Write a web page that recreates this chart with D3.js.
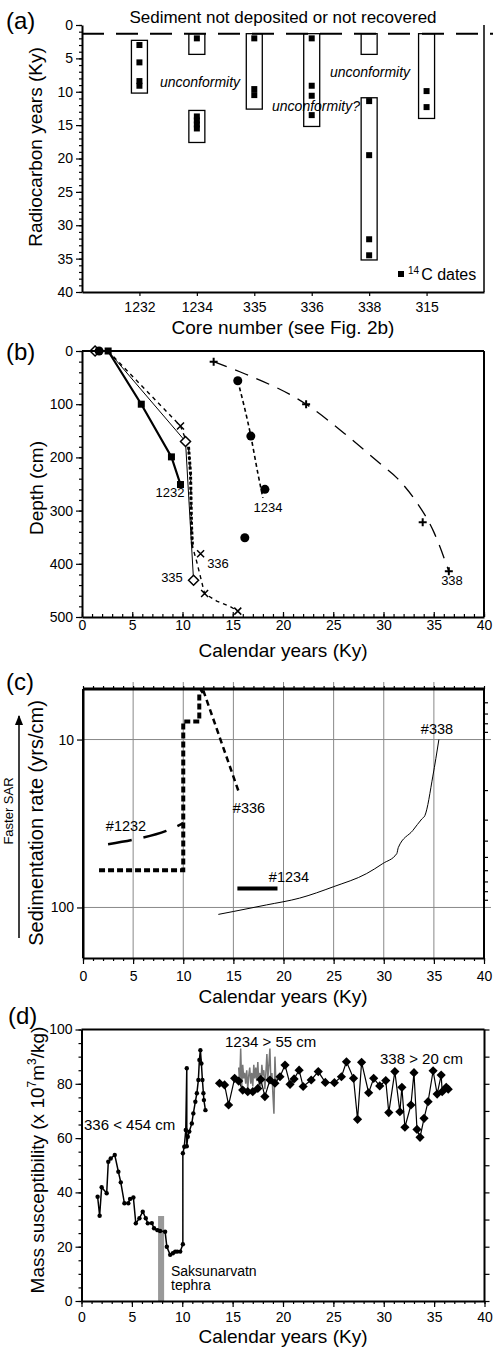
<!DOCTYPE html>
<html>
<head>
<meta charset="utf-8">
<script src="https://cdn.jsdelivr.net/npm/d3@7"></script>
<style>
  body { margin: 0; background: #fff; }
  svg { display: block; }
</style>
</head>
<body>
<script>
// ---------- (a) radiocarbon ages per core ----------
const coreNames = ["1232", "1234", "335", "336", "338", "315"];
const hiatusAge = 1.3;
const sectionCore = ["1232", "1234", "1234", "335", "336", "338", "338", "315"];
const sectionTop = [2.3, 1.3, 12.8, 1.3, 1.3, 1.3, 10.9, 1.3];
const sectionBase = [10.2, 4.4, 17.6, 12.6, 15.2, 4.4, 35.2, 14.0];
const datedCore = ["1232", "1232", "1232", "1232", "1234", "1234", "1234", "1234", "1234",
  "335", "335", "335", "336", "336", "336", "336", "338", "338", "338", "338", "315", "315"];
const datedAge = [3.0, 5.6, 8.4, 9.1, 2.0, 13.7, 14.3, 14.9, 15.5,
  2.0, 9.6, 10.5, 2.0, 9.1, 10.6, 13.5, 11.4, 19.5, 32.1, 34.5, 9.9, 12.3];

// ---------- (b) age-depth ----------
const age1232 = [2.6, 5.9, 8.9, 9.8];
const depth1232 = [0, 100, 199, 251];
const age335 = [1.3, 10.3, 11.1];
const depth335 = [0, 170, 431];
const age335Trace = [2.6, 10.3, 11.1];
const depth335Trace = [0, 170, 431];
const age336 = [9.8, 11.8, 12.2, 15.5];
const depth336 = [141, 381, 456, 489];
const age336Trace = [2.6, 9.8, 10.6, 10.8, 10.9, 11.0, 11.4, 12.2, 13.4, 14.8, 15.5];
const depth336Trace = [0, 141, 180, 230, 330, 368, 395, 456, 470, 481, 489];
const age1234 = [1.7, 15.5, 16.8, 18.2, 16.2];
const depth1234 = [0, 56, 160, 260, 351];
const age1234Trace = [15.5, 16.8, 17.5, 18.0];
const depth1234Trace = [56, 160, 230, 276];
const age338 = [13.1, 22.3, 33.9, 36.5];
const depth338 = [20, 100, 322, 414];
const age338Trace = [13.1, 15.7, 22.3, 26.5, 29.8, 31.3, 33.1, 35.0, 36.5];
const depth338Trace = [20, 39, 100, 161, 214, 238, 279, 340, 414];

// ---------- (c) sedimentation rate ----------
const age336Step = [1.6, 10.0, 10.0, 11.6, 11.6, 12.0];
const rate336Step = [60, 60, 7.8, 7.8, 5.3, 5.1];
const age336Tail = [12.0, 15.5];
const rate336Tail = [5.1, 20.2];
const age1232Rate = [2.5, 5.0, 8.3, 10.0];
const rate1232 = [42, 39.5, 35, 31.5];
const age1234Rate = [15.4, 19.4];
const rate1234 = [77, 77];
const age338Rate = [13.5, 15, 18.3, 21.6, 25, 28.3, 29.9, 31.3, 31.45, 32.9, 33.8, 34.1, 34.9, 35.5];
const rate338 = [110, 105.7, 96.6, 88, 75.2, 62.8, 54.8, 47.8, 44, 34.8, 29.7, 28.4, 16.5, 10];

// ---------- (d) mass susceptibility ----------
const msAge336 = [1.6, 1.8, 2.0, 2.5, 2.66, 2.9, 3.3, 3.66, 3.9, 4.26, 4.65, 4.82, 5.15, 5.39, 5.75,
  6.08, 6.38, 6.58, 6.98, 7.2, 7.54, 7.8, 8.3, 8.47, 8.8, 9.07, 9.3, 9.5, 9.8, 10.06, 10.06, 10.2,
  10.35, 10.45, 10.45, 10.55, 10.7, 10.95, 11.1, 11.3, 11.45, 11.6, 11.7, 11.8, 11.9, 12.0, 12.1, 12.15, 12.3];
const msVal336 = [38.4, 31.4, 41.9, 39.7, 51.3, 52.5, 53.8, 47.6, 43.7, 36, 36, 37.6, 38.1, 28.6, 30.5,
  32.9, 30.5, 28.6, 28.7, 26.8, 26.1, 25.8, 25.5, 20, 17, 17.6, 18.2, 18.2, 18.2, 20.9, 54.4, 56.8,
  63, 85.7, 57, 60.5, 62.4, 65.4, 69.1, 73.4, 76.5, 81.4, 88.8, 92.4, 87.5, 81.4, 76.5, 74, 70.3];
const msAge1234 = [15.6, 15.7, 15.8, 15.9, 16.0, 16.1, 16.2, 16.3, 16.4, 16.5, 16.6, 16.7, 16.8, 16.9,
  17.0, 17.1, 17.2, 17.3, 17.4, 17.5, 17.6, 17.7, 17.8, 17.9, 18.0, 18.1, 18.2, 18.3, 18.4, 18.5,
  18.6, 18.7, 18.8, 18.9, 19.0, 19.1, 19.2, 19.3, 19.4];
const msVal1234 = [86, 80, 93, 79, 87, 82, 84, 80, 85, 78, 83, 86, 80, 84, 79, 87, 82, 86, 81, 88,
  80, 84, 79, 87, 83, 85, 78, 84, 91, 82, 87, 93, 80, 84, 76, 69, 90, 80, 82];
const msAge338 = [13.7, 14.2, 14.6, 15.2, 15.6, 16.0, 16.5, 17.0, 17.5, 17.8, 18.2, 18.7, 19.2, 19.7,
  20.2, 20.7, 21.1, 21.6, 22.0, 22.8, 23.5, 24.2, 25.1, 25.8, 26.3, 27.0, 27.4, 27.8, 28.5, 29.0, 29.6,
  30.2, 30.5, 31.1, 31.6, 31.8, 32.1, 32.7, 33.0, 33.3, 33.6, 34.0, 34.4, 34.9, 35.3, 35.7, 35.8, 36.2, 36.4];
const msVal338 = [80.2, 79.6, 72.2, 82.0, 81.0, 77.7, 77.1, 77.1, 78.3, 81.6, 75.3, 81.4, 80.2, 82.6,
  86.9, 79.8, 81.8, 85.0, 79.0, 81.4, 84.5, 80.5, 80.4, 82.6, 88.1, 82.0, 66.9, 87.9, 76.7, 82.0, 79.2,
  81.2, 69.4, 84.5, 69.7, 78.7, 64.0, 72.2, 84.1, 63.2, 60.3, 67.3, 73.4, 84.8, 76.2, 83.2, 77.1, 78.7, 78.0];
const tephraAge = [7.6, 8.2];
const tephraTop = 31.3;

// ---------- setup ----------
const width = 493, height = 1348;
const font = '"Liberation Sans", Arial, Helvetica, sans-serif';

const svg = d3.select("body").append("svg")
  .attr("width", width)
  .attr("height", height)
  .attr("font-family", font);

const pts = (xs, ys) => xs.map((v, i) => [v, ys[i]]);

function label(x, y, str, size, anchor) {
  return svg.append("text")
    .attr("x", x).attr("y", y)
    .attr("font-size", size)
    .attr("text-anchor", anchor || "start")
    .text(str);
}

function yTitle(cx, cy, size) {
  return svg.append("text")
    .attr("transform", `translate(${cx},${cy}) rotate(-90)`)
    .attr("text-anchor", "middle")
    .attr("font-size", size);
}

function axis(gen, x, y) {
  const g = svg.append("g").attr("transform", `translate(${x},${y})`).call(gen);
  g.attr("font-family", font).attr("font-size", 14);
  g.selectAll("text").attr("fill", "#000");
  g.selectAll(".tick line").attr("stroke-width", 1.2);
  g.select(".domain").attr("stroke-width", 2);
  return g;
}

function ticksOnly(gen, x, y) {
  const g = axis(gen.tickFormat(""), x, y);
  g.select(".domain").remove();
  return g;
}

function frameLine(x1, y1, x2, y2, w) {
  svg.append("line")
    .attr("x1", x1).attr("y1", y1).attr("x2", x2).attr("y2", y2)
    .attr("stroke", "#000").attr("stroke-width", w || 2);
}

function path(data, line, stroke, w, dash) {
  return svg.append("path")
    .datum(data)
    .attr("d", line)
    .attr("fill", "none")
    .attr("stroke", stroke)
    .attr("stroke-width", w)
    .attr("stroke-dasharray", dash || null);
}

const diamond = r => `M0,${-r}L${r},0L0,${r}L${-r},0Z`;

// ================= (a) =================
const A = { left: 82, right: 484, top: 25, bottom: 292 };
const xA = d3.scalePoint().domain(coreNames).range([A.left, A.right]).padding(1);
const yA = d3.scaleLinear().domain([0, 40]).range([A.top, A.bottom]);

ticksOnly(d3.axisLeft(yA).tickValues(d3.range(0, 41)).tickSize(3), A.left, 0);
axis(d3.axisLeft(yA).tickValues(d3.range(0, 41, 5)).tickSize(6).tickSizeOuter(0).tickPadding(3), A.left, 0);
axis(d3.axisBottom(xA).tickSize(4).tickSizeOuter(0).tickPadding(6), 0, A.bottom);
frameLine(A.right, A.top, A.right, A.bottom, 1.5);

// hiatus line
svg.append("line")
  .attr("x1", A.left).attr("x2", width)
  .attr("y1", yA(hiatusAge)).attr("y2", yA(hiatusAge))
  .attr("stroke", "#000").attr("stroke-width", 2)
  .attr("stroke-dasharray", "22,12");

svg.append("g").selectAll("rect")
  .data(sectionCore)
  .join("rect")
  .attr("x", d => xA(d) - 8)
  .attr("y", (d, i) => yA(sectionTop[i]))
  .attr("width", 16)
  .attr("height", (d, i) => yA(sectionBase[i]) - yA(sectionTop[i]))
  .attr("fill", "none")
  .attr("stroke", "#000")
  .attr("stroke-width", 1.3);

svg.append("g").selectAll("rect")
  .data(datedCore)
  .join("rect")
  .attr("x", d => xA(d) - 3)
  .attr("y", (d, i) => yA(datedAge[i]) - 3)
  .attr("width", 6)
  .attr("height", 6);

label(283, 23, "Sediment not deposited or not recovered", 17, "middle");
label(200, 87, "unconformity", 14, "middle").attr("font-style", "italic");
label(370, 77, "unconformity", 14, "middle").attr("font-style", "italic");
label(316, 111, "unconformity?", 14, "middle").attr("font-style", "italic");

// legend
svg.append("rect").attr("x", 398).attr("y", 271).attr("width", 6).attr("height", 6);
const leg = svg.append("text").attr("x", 408).attr("y", 280).attr("font-size", 16);
leg.append("tspan").attr("font-size", 10).attr("dy", -6).text("14");
leg.append("tspan").attr("dy", 6).attr("dx", 2).text("C dates");

label(283, 334, "Core number (see Fig. 2b)", 19, "middle");
yTitle(42, 147, 19).text("Radiocarbon  years (Ky)");
label(6, 29, "(a)", 24);

// ================= (b) =================
const B = { left: 82, right: 484, top: 351, bottom: 617 };
const xB = d3.scaleLinear().domain([0, 40]).range([B.left, B.right]);
const yB = d3.scaleLinear().domain([0, 500]).range([B.top, B.bottom]);
const lineB = d3.line().x(d => xB(d[0])).y(d => yB(d[1]));
const curveB = d3.line().x(d => xB(d[0])).y(d => yB(d[1])).curve(d3.curveMonotoneX);

path(pts(age1232, depth1232), lineB, "#000", 2.2);
path(pts(age335Trace, depth335Trace), lineB, "#000", 1);
path(pts(age336Trace, depth336Trace), lineB, "#000", 1.4, "4,4");
path(pts(age336Trace, depth336Trace).slice(2, 6), lineB, "#000", 3, "3,2");
path(pts(age1234Trace, depth1234Trace), curveB, "#000", 1.6, "4,3");
path(pts(age338Trace, depth338Trace), curveB, "#000", 1.3, "14,9");

// markers
svg.append("g").selectAll("path")
  .data(pts(age335, depth335))
  .join("path")
  .attr("transform", d => `translate(${xB(d[0])},${yB(d[1])})`)
  .attr("d", diamond(5))
  .attr("fill", "#fff")
  .attr("stroke", "#000")
  .attr("stroke-width", 1.5);
svg.append("g").selectAll("circle")
  .data(pts(age1234, depth1234))
  .join("circle")
  .attr("cx", d => xB(d[0]))
  .attr("cy", d => yB(d[1]))
  .attr("r", 4.5);
svg.append("g").selectAll("rect")
  .data(pts(age1232, depth1232))
  .join("rect")
  .attr("x", d => xB(d[0]) - 3.5)
  .attr("y", d => yB(d[1]) - 3.5)
  .attr("width", 7)
  .attr("height", 7);
svg.append("g").selectAll("path")
  .data(pts(age336, depth336))
  .join("path")
  .attr("transform", d => `translate(${xB(d[0])},${yB(d[1])})`)
  .attr("d", "M-3.5,-3.5L3.5,3.5M-3.5,3.5L3.5,-3.5")
  .attr("stroke", "#000")
  .attr("stroke-width", 1.5);
svg.append("g").selectAll("path")
  .data(pts(age338, depth338))
  .join("path")
  .attr("transform", d => `translate(${xB(d[0])},${yB(d[1])})`)
  .attr("d", "M-4,0H4M0,-4V4")
  .attr("stroke", "#000")
  .attr("stroke-width", 2);

ticksOnly(d3.axisLeft(yB).tickValues(d3.range(0, 501, 20)).tickSize(3), B.left, 0);
axis(d3.axisLeft(yB).tickValues(d3.range(0, 501, 100)).tickSize(6).tickSizeOuter(0).tickPadding(3), B.left, 0);
ticksOnly(d3.axisBottom(xB).tickValues(d3.range(0, 41)).tickSize(-3), 0, B.bottom);
axis(d3.axisBottom(xB).tickValues(d3.range(0, 41, 5)).tickSize(-5).tickSizeOuter(0).tickPadding(3), 0, B.bottom);
frameLine(B.left, B.top, B.right, B.top, 2);
frameLine(B.right, B.top, B.right, B.bottom, 2);

label(170, 497, "1232", 13, "middle");
label(268, 512, "1234", 13, "middle");
label(218, 568, "336", 13, "middle");
label(172, 582, "335", 13, "middle");
label(452, 585, "338", 13, "middle");

label(283, 657, "Calendar years (Ky)", 19, "middle");
yTitle(43, 488, 19).text("Depth (cm)");
label(6, 360, "(b)", 24);

// ================= (c) =================
const C = { left: 83, right: 484, top: 689, bottom: 958 };
const xC = d3.scaleLinear().domain([0, 40]).range([C.left, C.right]);
const yC = d3.scaleLog().domain([5, 200]).range([C.top, C.bottom]);
const lineC = d3.line().x(d => xC(d[0])).y(d => yC(d[1]));
const curveC = d3.line().x(d => xC(d[0])).y(d => yC(d[1])).curve(d3.curveMonotoneX);

// grid
svg.append("g").selectAll("line")
  .data(d3.range(5, 40, 5))
  .join("line")
  .attr("x1", d => xC(d)).attr("x2", d => xC(d))
  .attr("y1", C.top - 7).attr("y2", C.bottom)
  .attr("stroke", "#888").attr("stroke-width", 1);
svg.append("g").selectAll("line")
  .data([10, 100])
  .join("line")
  .attr("x1", C.left).attr("x2", C.right + 7)
  .attr("y1", d => yC(d)).attr("y2", d => yC(d))
  .attr("stroke", "#888").attr("stroke-width", 1);

path(pts(age1232Rate, rate1232), curveC, "#000", 2.5, "24,12");
path(pts(age336Step, rate336Step), lineC, "#000", 4, "6,3");
path(pts(age336Tail, rate336Tail), lineC, "#000", 2.5, "6,4");
path(pts(age1234Rate, rate1234), lineC, "#000", 4);
path(pts(age338Rate, rate338), curveC, "#000", 1);

ticksOnly(d3.axisTop(xC).tickValues(d3.range(0, 41)).tickSize(3), 0, C.top);
ticksOnly(d3.axisBottom(xC).tickValues(d3.range(0, 41)).tickSize(3), 0, C.bottom);
axis(d3.axisBottom(xC).tickValues(d3.range(0, 41, 5)).tickSize(6).tickSizeOuter(0).tickPadding(7), 0, C.bottom);
axis(d3.axisLeft(yC).tickValues([10, 100]).tickFormat(d3.format("d")).tickSize(6).tickSizeOuter(0).tickPadding(3), C.left, 0);
ticksOnly(d3.axisRight(yC).tickValues([6, 7, 8, 9, 20, 30, 40, 50, 60, 70, 80, 90]).tickSize(4), C.right, 0);
frameLine(C.left, C.top, C.right, C.top, 3);
frameLine(C.right, C.top, C.right, C.bottom, 2);
frameLine(C.left, C.top, C.left, C.bottom, 2);

label(249, 813, "#336", 14.5, "middle");
label(437, 734, "#338", 14.5, "middle");
label(126, 831, "#1232", 14.5, "middle");
label(289, 882, "#1234", 14.5, "middle");

// faster SAR arrow
svg.append("defs").append("marker")
  .attr("id", "arrow")
  .attr("viewBox", "0 0 10 10")
  .attr("refX", 9).attr("refY", 5)
  .attr("markerWidth", 7).attr("markerHeight", 7)
  .attr("orient", "auto")
  .append("path").attr("d", "M0,1L10,5L0,9Z");
svg.append("line")
  .attr("x1", 19).attr("x2", 19).attr("y1", 938).attr("y2", 716)
  .attr("stroke", "#000").attr("stroke-width", 1.5)
  .attr("marker-end", "url(#arrow)");
yTitle(13, 811, 13).text("Faster  SAR");

label(283, 1003, "Calendar years (Ky)", 19, "middle");
yTitle(43, 823, 20).text("Sedimentation  rate (yrs/cm)");
label(6, 690, "(c)", 24);

// ================= (d) =================
const D = { left: 81.5, right: 484.5, top: 1029.5, bottom: 1301 };
const xD = d3.scaleLinear().domain([0, 40]).range([D.left, D.right]);
const yD = d3.scaleLinear().domain([0, 100]).range([D.bottom, D.top]);
const lineD = d3.line().x(d => xD(d[0])).y(d => yD(d[1]));

svg.append("rect")
  .attr("x", xD(tephraAge[0]))
  .attr("width", xD(tephraAge[1]) - xD(tephraAge[0]))
  .attr("y", yD(tephraTop))
  .attr("height", yD(0) - yD(tephraTop))
  .attr("fill", "#999");

path(pts(msAge336, msVal336), lineD, "#000", 1.5);
svg.append("g").selectAll("circle")
  .data(pts(msAge336, msVal336))
  .join("circle")
  .attr("cx", d => xD(d[0]))
  .attr("cy", d => yD(d[1]))
  .attr("r", 2.2);

path(pts(msAge1234, msVal1234), lineD, "#777", 1.5);
path(pts(msAge338, msVal338), lineD, "#000", 1.2);
svg.append("g").selectAll("path")
  .data(pts(msAge338, msVal338))
  .join("path")
  .attr("transform", d => `translate(${xD(d[0])},${yD(d[1])})`)
  .attr("d", diamond(4.6));

ticksOnly(d3.axisLeft(yD).tickValues(d3.range(0, 101, 5)).tickSize(3), D.left, 0);
axis(d3.axisLeft(yD).tickValues(d3.range(0, 101, 20)).tickSize(6).tickSizeOuter(0).tickPadding(3), D.left, 0);
ticksOnly(d3.axisRight(yD).tickValues(d3.range(0, 101, 10)).tickSize(5), D.right, 0);
ticksOnly(d3.axisBottom(xD).tickValues(d3.range(0, 41)).tickSize(3), 0, D.bottom);
axis(d3.axisBottom(xD).tickValues(d3.range(0, 41, 5)).tickSize(6).tickSizeOuter(0).tickPadding(5), 0, D.bottom);
frameLine(D.left, D.top, D.right, D.top, 2);
frameLine(D.right, D.top, D.right, D.bottom, 2);

label(84, 1130, "336 < 454 cm", 15);
label(225, 1047, "1234 > 55 cm", 15);
label(380, 1064, "338 > 20 cm", 15);
label(171, 1276, "Saksunarvatn", 14);
label(171, 1290, "tephra", 14);

label(283, 1343, "Calendar years (Ky)", 19, "middle");
const msTitle = yTitle(44, 1160, 19);
msTitle.append("tspan").text("Mass susceptibility (x 10");
msTitle.append("tspan").attr("font-size", 12).attr("dy", -8).text("7");
msTitle.append("tspan").attr("dy", 8).text("m");
msTitle.append("tspan").attr("font-size", 12).attr("dy", -8).text("3");
msTitle.append("tspan").attr("dy", 8).text("/kg)");
label(8, 1024, "(d)", 24);
</script>
</body>
</html>
